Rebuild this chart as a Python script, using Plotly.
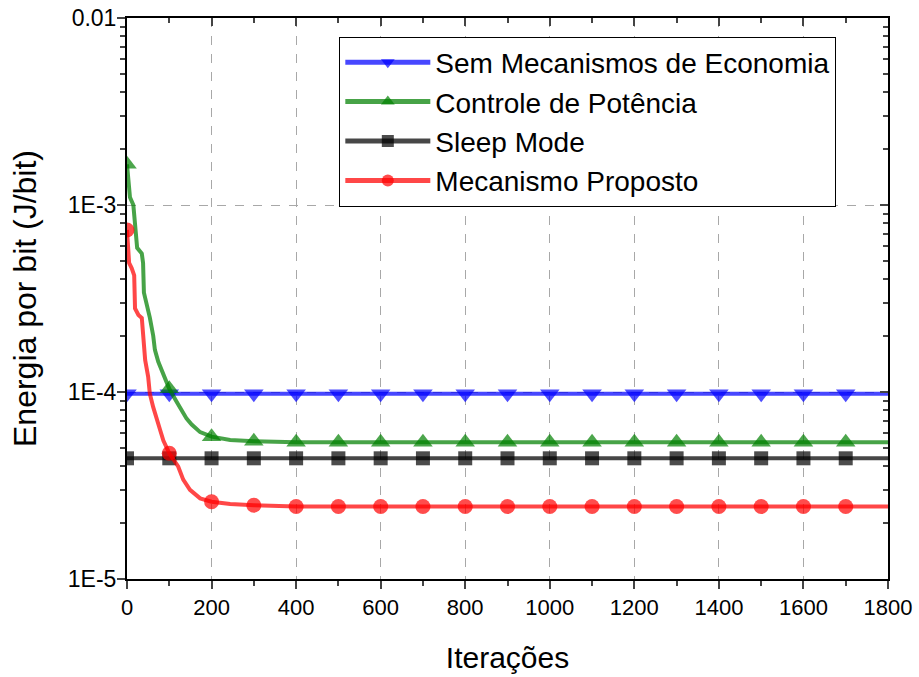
import plotly.graph_objects as go

# ---------------- data ----------------
iter_flat = [0, 100, 200, 300, 400, 500, 600, 700, 800, 900, 1000, 1100, 1200,
             1300, 1400, 1500, 1600, 1700, 1800]
sem_mec = [9.78e-5, 9.78e-5, 9.78e-5, 9.78e-5, 9.78e-5, 9.78e-5, 9.78e-5, 9.78e-5,
           9.78e-5, 9.78e-5, 9.78e-5, 9.78e-5, 9.78e-5, 9.78e-5, 9.78e-5, 9.78e-5,
           9.78e-5, 9.78e-5, 9.78e-5]
sleep_mode = [4.42e-5, 4.42e-5, 4.42e-5, 4.42e-5, 4.42e-5, 4.42e-5, 4.42e-5, 4.42e-5,
              4.42e-5, 4.42e-5, 4.42e-5, 4.42e-5, 4.42e-5, 4.42e-5, 4.42e-5, 4.42e-5,
              4.42e-5, 4.42e-5, 4.42e-5]

iter_controle = [0, 4, 7, 15, 17, 24, 35, 38, 40, 46, 54, 62, 66, 74, 82, 94, 100,
                 117, 129, 141, 153, 173, 200, 244, 300, 400, 500, 600, 700, 800,
                 900, 1000, 1100, 1200, 1300, 1400, 1500, 1600, 1700, 1800]
controle = [1.65e-3, 1.3e-3, 1.1e-3, 1.0e-3, 8.6e-4, 5.9e-4, 5.5e-4, 4.9e-4, 3.4e-4,
            3.0e-4, 2.5e-4, 2.0e-4, 1.68e-4, 1.45e-4, 1.31e-4, 1.11e-4, 1.04e-4,
            8.9e-5, 8.0e-5, 7.2e-5, 6.7e-5, 6.1e-5, 5.77e-5, 5.54e-5, 5.45e-5,
            5.38e-5, 5.38e-5, 5.38e-5, 5.38e-5, 5.38e-5, 5.38e-5, 5.38e-5, 5.38e-5,
            5.38e-5, 5.38e-5, 5.38e-5, 5.38e-5, 5.38e-5, 5.38e-5, 5.38e-5]

iter_proposto = [0, 5, 11, 15, 17, 19, 27, 35, 39, 43, 50, 54, 62, 70, 78, 86, 94,
                 100, 121, 133, 149, 173, 200, 244, 300, 400, 500, 600, 700, 800,
                 900, 1000, 1100, 1200, 1300, 1400, 1500, 1600, 1700, 1800]
proposto = [7.35e-4, 4.9e-4, 4.6e-4, 4.4e-4, 4.2e-4, 2.8e-4, 2.58e-4, 2.49e-4, 1.9e-4,
            1.48e-4, 1.21e-4, 9.8e-5, 8.3e-5, 7.1e-5, 6.3e-5, 5.5e-5, 5.1e-5,
            4.7e-5, 4.0e-5, 3.4e-5, 3.0e-5, 2.7e-5, 2.59e-5, 2.52e-5, 2.48e-5,
            2.44e-5, 2.44e-5, 2.44e-5, 2.44e-5, 2.44e-5, 2.44e-5, 2.44e-5, 2.44e-5,
            2.44e-5, 2.44e-5, 2.44e-5, 2.44e-5, 2.44e-5, 2.44e-5, 2.44e-5]

names = ["Sem Mecanismos de Economia", "Controle de Potência", "Sleep Mode",
         "Mecanismo Proposto"]

x_ticks = [0, 200, 400, 600, 800, 1000, 1200, 1400, 1600, 1800]
y_tickvals = [1e-5, 1e-4, 1e-3, 1e-2]
y_ticktext = ["1E-5", "1E-4", "1E-3", "0.01"]

FONT = "Liberation Sans, Arial, sans-serif"


def marker_sizes(xs, size):
    return [size if (x % 100 == 0 and x <= 1700) else 0 for x in xs]


series = [
    (iter_flat, sem_mec, names[0], "rgb(0,0,255)", "rgba(0,0,255,0.72)", "triangle-down", 17),
    (iter_controle, controle, names[1], "rgb(0,128,0)", "rgba(0,128,0,0.72)", "triangle-up", 17),
    (iter_flat, sleep_mode, names[2], "rgb(0,0,0)", "rgba(0,0,0,0.72)", "square", 14),
    (iter_proposto, proposto, names[3], "rgb(255,0,0)", "rgba(255,0,0,0.72)", "circle", 15),
]

fig = go.Figure()
for xs, ys, nm, mc, lc, sym, sz in series:
    fig.add_trace(go.Scatter(
        x=xs, y=ys, name=nm, mode="lines+markers",
        line=dict(color=lc, width=4),
        marker=dict(color=mc, symbol=sym, size=marker_sizes(xs, sz), line=dict(width=0)),
    ))

# helper trace for mirrored (inside) ticks on top / right
fig.add_trace(go.Scatter(x=[None], y=[None], xaxis="x2", yaxis="y2",
                         showlegend=False, hoverinfo="skip"))

fig.update_layout(
    width=919, height=677,
    margin=dict(l=127, r=31, t=18, b=98),
    paper_bgcolor="white", plot_bgcolor="white",
    font=dict(family=FONT, color="black"),
    showlegend=True,
    legend=dict(
        x=0.279, y=0.967, xanchor="left", yanchor="top",
        bordercolor="black", borderwidth=1, bgcolor="white",
        font=dict(size=28, family=FONT), itemsizing="constant",
        itemwidth=85, tracegroupgap=0,
    ),
    xaxis=dict(
        range=[0, 1800], tickvals=x_ticks, ticks="outside", ticklen=8, tickwidth=2,
        tickfont=dict(size=22, family=FONT), automargin=False,
        showline=True, linecolor="black", linewidth=2,
        showgrid=True, gridcolor="#a8a8a8", griddash="dash", gridwidth=1,
        zeroline=False,
        minor=dict(dtick=100, ticks="outside", ticklen=5, tickwidth=2, showgrid=False),
        title=dict(text="Iterações", font=dict(size=30, family=FONT), standoff=28),
    ),
    yaxis=dict(
        type="log", range=[-5, -2], tickvals=y_tickvals, ticktext=y_ticktext,
        ticks="outside", ticklen=8, tickwidth=2, tickfont=dict(size=23, family=FONT),
        ticklabelstandoff=-4, automargin=False,
        showline=True, linecolor="black", linewidth=2,
        showgrid=True, gridcolor="#a8a8a8", griddash="dash", gridwidth=1,
        zeroline=False,
        minor=dict(dtick="D1", ticks="outside", ticklen=5, tickwidth=2, showgrid=False),
        title=dict(text="Energia por bit (J/bit)", font=dict(size=32, family=FONT), standoff=22),
    ),
    xaxis2=dict(
        overlaying="x", side="top", anchor="y", range=[0, 1800], tickvals=x_ticks,
        ticks="inside", ticklen=8, tickwidth=2, showticklabels=False, automargin=False,
        showline=True, linecolor="black", linewidth=2, showgrid=False, zeroline=False,
        minor=dict(dtick=100, ticks="inside", ticklen=5, tickwidth=2, showgrid=False),
    ),
    yaxis2=dict(
        overlaying="y", side="right", anchor="x", type="log", range=[-5, -2],
        tickvals=y_tickvals, ticks="inside", ticklen=8, tickwidth=2, showticklabels=False,
        automargin=False,
        showline=True, linecolor="black", linewidth=2, showgrid=False, zeroline=False,
        minor=dict(dtick="D1", ticks="inside", ticklen=5, tickwidth=2, showgrid=False),
    ),
)

fig.write_html("out.html", config={"displayModeBar": False},
               post_script="document.body.style.margin='0';document.body.style.padding='0';")
